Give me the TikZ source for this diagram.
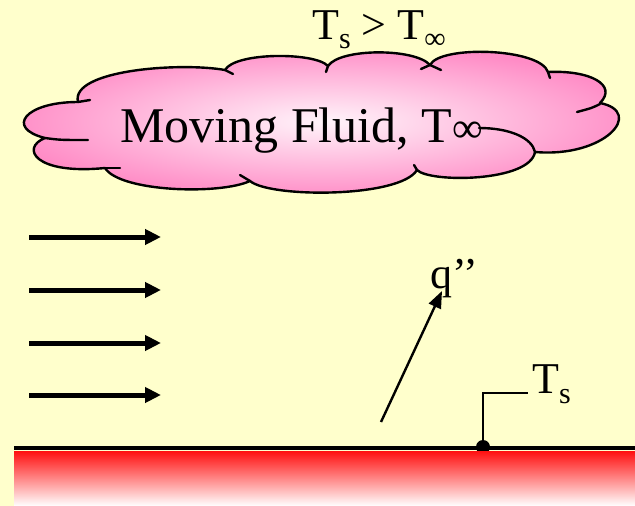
\documentclass[tikz,border=0pt]{standalone}
\usepackage{fontspec}
\setmainfont{Liberation Serif}
\usetikzlibrary{arrows.meta}
\definecolor{bgyellow}{RGB}{255,255,204}
\definecolor{cloudpink}{RGB}{255,140,198}
\definecolor{cloudwhite}{RGB}{255,244,250}
\definecolor{platered}{RGB}{255,18,18}
\tikzset{
  cloudline/.style={line width=2.4pt, line join=round, line cap=round},
  flowarrow/.style={line width=5pt, -{Triangle[length=16pt,width=15pt]}},
  heatarrow/.style={line width=2.4pt, -{Triangle[length=17pt,width=13pt]}},
  lbl/.style={inner sep=0pt, anchor=base west, text=black},
}
\begin{document}
\begin{tikzpicture}[x=1pt,y=-1pt]
\fill[bgyellow] (0,0) rectangle (635,506);
\useasboundingbox (0,0) rectangle (635,506);

% cloud
\path[inner color=cloudwhite, outer color=cloudpink]
 (78,102) .. controls (25,102) and (5,128) .. (45,138)
 .. controls (20,148) and (35,175) .. (105,168)
 .. controls (120,192) and (220,195) .. (250,181)
 .. controls (270,198) and (400,198) .. (417,170)
 .. controls (430,183) and (530,182) .. (535,152)
 .. controls (605,158) and (645,112) .. (600,103)
 .. controls (618,85) and (590,70) .. (548,72)
 .. controls (540,48) and (440,45) .. (430,65)
 .. controls (415,48) and (340,48) .. (328,66)
 .. controls (315,52) and (235,52) .. (225,70)
 .. controls (180,62) and (70,70) .. (78,102) -- cycle;
\draw[cloudline]
 (78,102) .. controls (25,102) and (5,128) .. (45,138)
 .. controls (20,148) and (35,175) .. (105,168)
 .. controls (120,192) and (220,195) .. (250,181)
 .. controls (270,198) and (400,198) .. (417,170)
 .. controls (430,183) and (530,182) .. (535,152)
 .. controls (605,158) and (645,112) .. (600,103)
 .. controls (618,85) and (590,70) .. (548,72)
 .. controls (540,48) and (440,45) .. (430,65)
 .. controls (415,48) and (340,48) .. (328,66)
 .. controls (315,52) and (235,52) .. (225,70)
 .. controls (180,62) and (70,70) .. (78,102) -- cycle;
% inner ticks of the cloud
\draw[cloudline] (78,102) -- (90,100);
\draw[cloudline] (45,138) .. controls (60,140) .. (88,140);
\draw[cloudline] (105,168) -- (120,168);
\draw[cloudline] (250,181) -- (240,175);
\draw[cloudline] (417,170) -- (414,165);
\draw[cloudline] (535,152) .. controls (532,138) and (510,128) .. (479,128);
\draw[cloudline] (600,104) .. controls (592,108) .. (577,112);
\draw[cloudline] (548,72) -- (550,78);
\draw[cloudline] (421,69) -- (430,65) -- (441,70);
\draw[cloudline] (328,66) -- (326,72);
\draw[cloudline] (225,70) -- (233,74);

\node[lbl, font=\fontsize{50}{60}\selectfont] (fluid) at (120,142)
  {Moving Fluid, T{\fontsize{43}{50}\selectfont ∞}};
\node[lbl, font=\fontsize{44}{50}\selectfont] (cond) at (312,39)
  {T\raisebox{-9pt}{\fontsize{30}{30}\selectfont s} > T\raisebox{-9pt}{\fontsize{30}{30}\selectfont ∞}};

% flow arrows
\foreach \i/\yy in {1/237,2/290,3/343,4/395}{
  \coordinate (fs\i) at (29,\yy);
  \coordinate (fe\i) at (161,\yy);
  \draw[flowarrow] (fs\i) -- (fe\i);
}

% plate
\coordinate (pl) at (14,448);
\coordinate (pr) at (635,448);
\coordinate (tsdot) at (483,447);
\fill (tsdot) circle (7);
\shade[top color=platered, bottom color=white] (14,451.5) rectangle (635,506);
\draw[line width=4pt] (pl) -- (pr);

% heat flux
\coordinate (qs) at (381,422);
\coordinate (qe) at (442,291);
\draw[heatarrow] (qs) -- (qe);
\node[lbl, font=\fontsize{44}{50}\selectfont] (q) at (430,288) {q’’};

% surface temperature
\node[lbl, font=\fontsize{44}{50}\selectfont] (ts) at (532,393)
  {T\raisebox{-10pt}{\fontsize{30}{30}\selectfont s}};
\coordinate (tsend) at (528,393);
\draw[line width=2.4pt] (tsdot) |- (tsend);
\end{tikzpicture}
\end{document}
